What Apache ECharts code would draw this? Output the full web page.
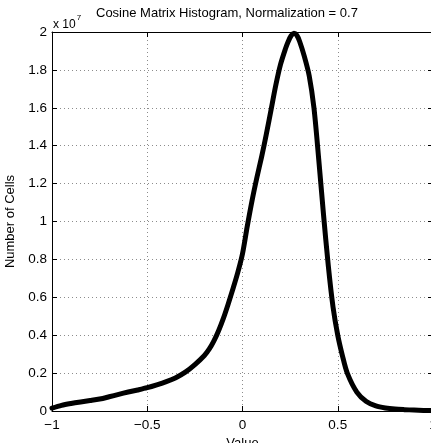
<!DOCTYPE html>
<html>
<head>
<meta charset="utf-8">
<title>Cosine Matrix Histogram</title>
<script src="https://cdn.jsdelivr.net/npm/echarts@6/dist/echarts.min.js"></script>
<style>
  html, body { margin: 0; padding: 0; background: #fff; }
  #chart { width: 431px; height: 443px; }
</style>
</head>
<body>
<div id="chart"></div>
<script>
// values (counts in units of 1e7)
const binCenters = [
  -1.00, -0.95, -0.90, -0.85, -0.80, -0.75, -0.70, -0.65, -0.60, -0.55,
  -0.50, -0.45, -0.40, -0.35, -0.30, -0.25, -0.20, -0.175, -0.15, -0.125,
  -0.10, -0.075, -0.05, -0.025, 0.00, 0.025, 0.05, 0.075, 0.10, 0.125,
  0.15, 0.175, 0.20, 0.225, 0.24, 0.255, 0.27, 0.285, 0.30, 0.325,
  0.35, 0.375, 0.40, 0.425, 0.45, 0.475, 0.50, 0.525, 0.55, 0.60,
  0.65, 0.70, 0.75, 0.80, 0.85, 0.90, 0.95, 1.00
]
const cellCounts = [
  0.015, 0.030, 0.040, 0.048, 0.055, 0.063, 0.075, 0.088, 0.100, 0.111,
  0.123, 0.138, 0.155, 0.176, 0.205, 0.245, 0.293, 0.326, 0.370, 0.425,
  0.490, 0.565, 0.645, 0.730, 0.830, 0.975, 1.110, 1.230, 1.340, 1.460,
  1.590, 1.720, 1.830, 1.910, 1.950, 1.980, 1.993, 1.983, 1.950, 1.870,
  1.770, 1.600, 1.330, 1.040, 0.770, 0.550, 0.400, 0.290, 0.200, 0.100,
  0.050, 0.027, 0.016, 0.010, 0.007, 0.005, 0.003, 0.002
]
const xTicks = [-1, -0.5, 0, 0.5, 1]
const yTicks = [0, 0.2, 0.4, 0.6, 0.8, 1, 1.2, 1.4, 1.6, 1.8, 2]

const font = 'Liberation Sans, Arial, Helvetica, sans-serif'
const gridLine = { show: true, lineStyle: { color: '#8c8c8c', width: 1, type: [1, 3] } }

const chart = echarts.init(document.getElementById('chart'))

const option = {
  backgroundColor: '#fff',
  animation: false,
  title: [
    {
      text: 'Cosine Matrix Histogram, Normalization = 0.7',
      left: 96,
      top: 7,
      padding: 0,
      textStyle: { fontFamily: font, fontSize: 13, fontWeight: 'normal', color: '#000' }
    },
    {
      text: '{b|x 10}{s|7}',
      left: 53,
      top: 14,
      padding: 0,
      textStyle: {
        fontWeight: 'normal',
        rich: {
          b: { fontFamily: font, fontSize: 12, fontWeight: 'normal', color: '#000', verticalAlign: 'bottom' },
          s: { fontFamily: font, fontSize: 8, fontWeight: 'normal', color: '#000', verticalAlign: 'top', padding: [0, 0, 9, 1] }
        }
      }
    }
  ],
  grid: { left: 52, right: -2, top: 32, bottom: 32, outerBoundsMode: 'none', containLabel: false },
  xAxis: [
    {
      type: 'value',
      min: xTicks[0],
      max: xTicks[xTicks.length - 1],
      interval: 0.5,
      name: 'Value',
      nameLocation: 'middle',
      nameGap: 24,
      nameTextStyle: { fontFamily: font, fontSize: 13, color: '#000' },
      axisLine: { show: true, onZero: false, lineStyle: { color: '#000', width: 1 } },
      axisTick: { show: true, inside: true, length: 5, lineStyle: { color: '#000' } },
      axisLabel: {
        margin: 7,
        showMinLabel: true,
        showMaxLabel: true,
        hideOverlap: false,
        fontFamily: font,
        fontSize: 13.5,
        color: '#000',
        formatter: v => String(v).replace('-', '\u2212')
      },
      splitLine: gridLine
    },
    {
      type: 'value',
      position: 'top',
      min: xTicks[0],
      max: xTicks[xTicks.length - 1],
      interval: 0.5,
      axisLine: { show: true, onZero: false, lineStyle: { color: '#000', width: 1 } },
      axisTick: { show: true, inside: true, length: 5, lineStyle: { color: '#000' } },
      axisLabel: { show: false },
      splitLine: { show: false }
    }
  ],
  yAxis: [
    {
      type: 'value',
      min: yTicks[0],
      max: yTicks[yTicks.length - 1],
      interval: 0.2,
      name: 'Number of Cells',
      nameLocation: 'middle',
      nameGap: 28,
      nameTextStyle: { fontFamily: font, fontSize: 13, color: '#000' },
      axisLine: { show: true, onZero: false, lineStyle: { color: '#000', width: 1 } },
      axisTick: { show: true, inside: true, length: 5, lineStyle: { color: '#000' } },
      axisLabel: {
        margin: 5,
        fontFamily: font,
        fontSize: 13.5,
        color: '#000',
        formatter: v => String(+v.toFixed(1))
      },
      splitLine: gridLine
    },
    {
      type: 'value',
      position: 'right',
      min: yTicks[0],
      max: yTicks[yTicks.length - 1],
      interval: 0.2,
      axisLine: { show: true, onZero: false, lineStyle: { color: '#000', width: 1 } },
      axisTick: { show: true, inside: true, length: 5, lineStyle: { color: '#000' } },
      axisLabel: { show: false },
      splitLine: { show: false }
    }
  ],
  series: [{
    type: 'line',
    xAxisIndex: 0,
    yAxisIndex: 0,
    data: binCenters.map((x, i) => [x, cellCounts[i]]),
    showSymbol: false,
    smooth: 0.3,
    lineStyle: { color: '#000', width: 5, cap: 'round', join: 'round' }
  }]
}

chart.setOption(option)
</script>
</body>
</html>
